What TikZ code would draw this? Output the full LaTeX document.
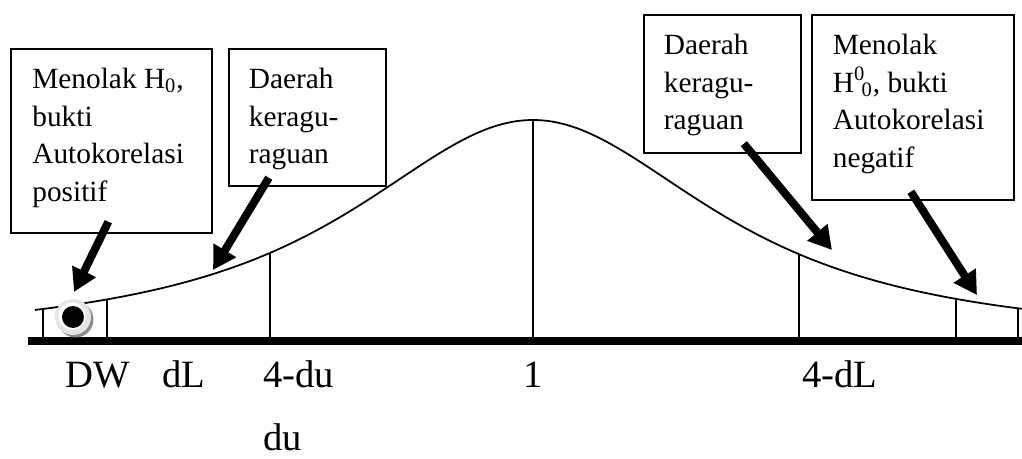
\documentclass[tikz,border=0pt]{standalone}
\usepackage{fontspec}
\setmainfont{Liberation Serif}
\usetikzlibrary{arrows.meta,calc}
\newcommand{\notefont}{\fontsize{16.7}{21.5}\selectfont}
\newcommand{\axisfont}{\fontsize{22}{26}\selectfont}
\tikzset{
  note/.style  = {draw, line width=1pt, anchor=north west, inner xsep=0.43cm,
                  inner ysep=0.38cm, font=\notefont},
  fat/.style   = {-{Triangle[length=0.46cm,width=0.5cm]}, line width=0.16cm},
  rule/.style  = {line width=1pt},
  axl/.style   = {anchor=base west, font=\axisfont, inner sep=0pt},
}

\begin{document}
\begin{tikzpicture}[x=0.02cm, y=-0.02cm,
    declare function={bell(\x)=341-221/(1+((\x-533)/245)^2)^1.2;}]
  \useasboundingbox (0,0) rectangle (1022,459);
  % curve, base line and the cut lines
  \draw[rule] plot[domain=35:1022, samples=160, smooth] (\x,{bell(\x)});
  \fill (28,337) rectangle (1022,345);
  \foreach \xx in {43,107,270,533,799,956,1018}
    \draw[rule] (\xx,341) -- (\xx,{bell(\xx)});

  \node[note] (rejpos) at (10,48) {\parbox[t][2.92cm][t]{3.16cm}{\raggedright
      Menolak H\textsubscript{0},\\ bukti\\ Autokorelasi\\ positif}};
  \node[note, inner xsep=0.4cm] (doubtL) at (228,48) {\parbox[t][1.98cm][t]{2.34cm}{\raggedright
      Daerah\\ keragu-\\ raguan}};
  \node[note, inner xsep=0.4cm] (doubtR) at (643,14) {\parbox[t][2.0cm][t]{2.34cm}{\raggedright
      Daerah\\ keragu-\\ raguan}};
  \node[note, inner xsep=0.42cm] (rejneg) at (811,14) {\parbox[t][2.94cm][t]{3.2cm}{\raggedright
      Menolak\\ H\textsuperscript{0}\kern-0.12em\textsubscript{0}, bukti\\ Autokorelasi\\ negatif}};

  % DW marker
  \fill[black!45] (75.5,319.5) circle (0.36cm);
  \fill[black!10] (73,317) circle (0.36cm);
  \fill[white] (72,316) circle (0.27cm);
  \node[circle, fill=black, inner sep=0pt, minimum size=0.44cm] (dw) at (73,317) {};

  \coordinate (tip1) at (74,292);
  \coordinate (tip2) at (213,270);
  \coordinate (tip3) at (832,250);
  \coordinate (tip4) at (977,295);
  \draw[fat] ([shift={(-3,-12)}]rejpos.south) -- (tip1);
  \draw[fat] ([shift={(-38.5,-9)}]doubtL.south) -- (tip2);
  \draw[fat] ([shift={(21.5,-10)}]doubtR.south) -- (tip3);
  \draw[fat] ([shift={(-2,-9)}]rejneg.south) -- (tip4);

  \node[axl] (lDW) at (65,388) {DW};
  \node[axl] (ldL) at (162,388) {dL};
  \node[axl] (ldu4) at (263,388) {4-du};
  \node[axl] (lone) at (523,388) {1};
  \node[axl] (ldL4) at (802,388) {4-dL};
  \node[axl] (ldu) at (263,451) {du};
\end{tikzpicture}
\end{document}
